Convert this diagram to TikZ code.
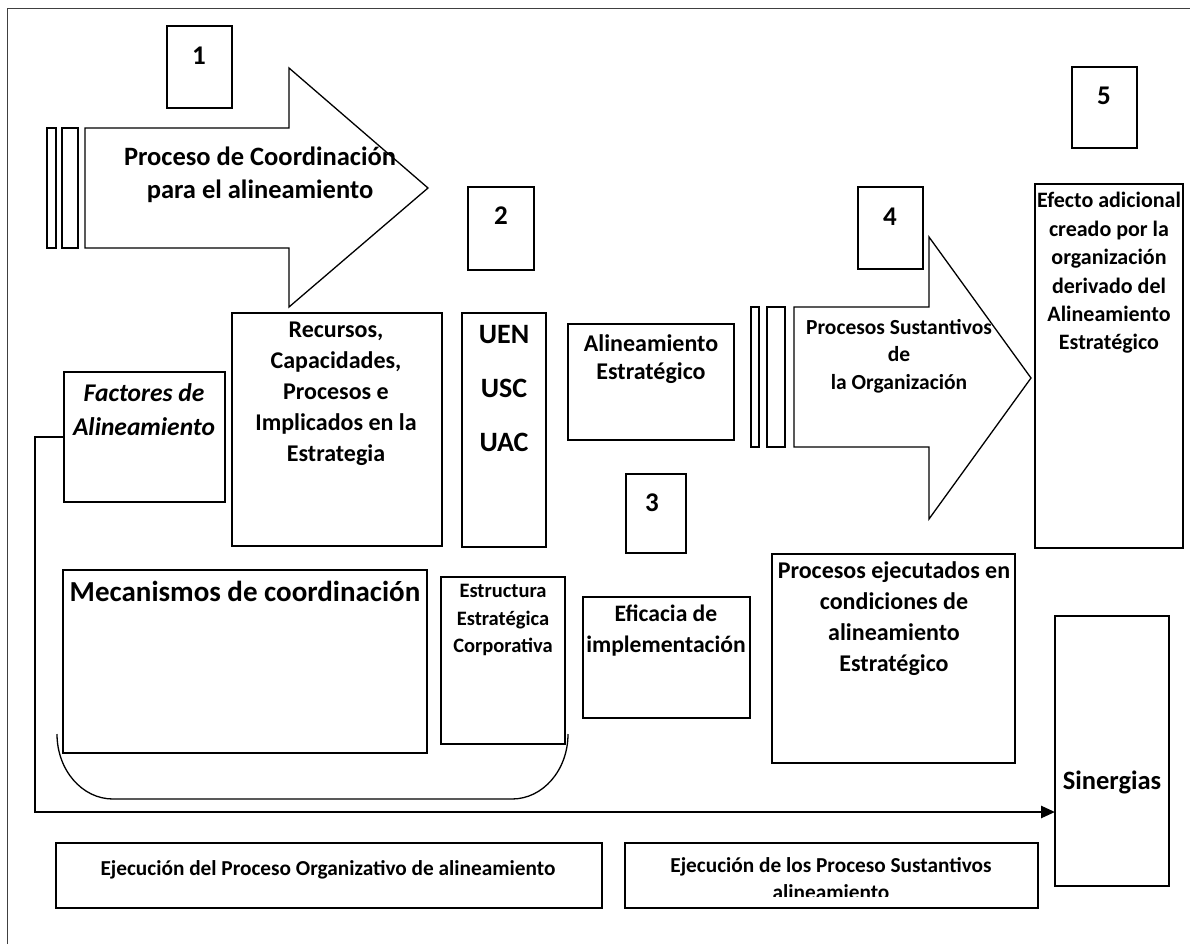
\documentclass[tikz,border=0pt]{standalone}
\usepackage{fontspec}
\setmainfont{Carlito}
\usetikzlibrary{arrows.meta}
\newcommand\myfs[2]{\fontsize{#1}{#2}\selectfont\bfseries}
\begin{document}
\begin{tikzpicture}[x=1pt,y=-1pt,
  box/.style={draw=black, line width=1.6pt, anchor=north west, inner sep=0pt, outer sep=0pt},
  blockarrow/.style={draw=black, line width=1.3pt, line join=miter},
  lbl/.style={align=center, inner sep=0pt},
  numlbl/.style={inner sep=0pt, font=\myfs{27}{30}},
]
\useasboundingbox (0,0) rectangle (1190,944);
% outer frame (only top and left edges visible)
\draw[line width=1.5pt, black!75] (7.5,944) -- (7.5,8.5) -- (1190,8.5);

% ---- number boxes
\node[box, minimum width=65pt, minimum height=82pt] (b1) at (167,26) {};
\node[box, minimum width=66pt, minimum height=83pt] (b2) at (468,187) {};
\node[box, minimum width=60pt, minimum height=79pt] (b3) at (626,474) {};
\node[box, minimum width=65pt, minimum height=82pt] (b4) at (858,187) {};
\node[box, minimum width=65pt, minimum height=81pt] (b5) at (1072,67) {};
\node[numlbl] (n1) at (199,56) {1};
\node[numlbl] (n2) at (501,216) {2};
\node[numlbl] (n3) at (652,503) {3};
\node[numlbl] (n4) at (890,217) {4};
\node[numlbl] (n5) at (1104,96) {5};

% ---- block arrow 1
\draw[blockarrow] (47,128) rectangle (56,248);
\draw[blockarrow] (62,128) rectangle (78,248);
\draw[blockarrow] (85,128) -- (289,128) -- (289,68) -- (428,188) -- (289,307) -- (289,248) -- (85,248) -- cycle;
\node[lbl, font=\myfs{26.5}{33}] (ta1) at (260,175) {Proceso de Coordinación\\para el alineamiento};

% ---- block arrow 2
\draw[blockarrow] (751,307) rectangle (759,447);
\draw[blockarrow] (767,307) rectangle (785,447);
\draw[blockarrow] (794,307) -- (929,307) -- (929,237) -- (1031,378) -- (929,519) -- (929,447) -- (794,447) -- cycle;
\node[lbl, font=\myfs{21.5}{27.5}] (ta2) at (899,356) {Procesos Sustantivos\\de\\la Organización};

% ---- content boxes
\node[box, minimum width=210pt, minimum height=233pt] (recursos) at (232,313) {};
\node[lbl, font=\myfs{24}{31}] (trec) at (336,394) {Recursos,\\Capacidades,\\Procesos e\\Implicados en la\\Estrategia};

\node[box, minimum width=161pt, minimum height=130pt] (factores) at (64,372) {};
\node[lbl, font=\myfs{25.5}{34}\itshape] (tfac) at (144,410) {Factores de\\Alineamiento};

\node[box, minimum width=84pt, minimum height=234pt] (uen) at (462,313) {};
\node[lbl, font=\myfs{28}{54}] (tuen) at (504,389) {UEN\\USC\\UAC};

\node[box, minimum width=166pt, minimum height=116pt] (alin) at (568,324) {};
\node[lbl, font=\myfs{24}{28}] (talin) at (651,359) {Alineamiento\\Estratégico};

\node[box, minimum width=148pt, minimum height=364pt] (efecto) at (1035,184) {};
\node[lbl, font=\myfs{22}{28.4}] (tefe) at (1109,273) {Efecto adicional\\creado por la\\organización\\derivado del\\Alineamiento\\Estratégico};

\node[box, minimum width=364pt, minimum height=183pt] (mecan) at (63,570) {};
\node[lbl, font=\myfs{29}{34}] (tmec) at (245,591) {Mecanismos de coordinación};

\node[box, minimum width=124pt, minimum height=167pt] (estr) at (441,577) {};
\node[lbl, font=\myfs{20.5}{27.5}] (test) at (503,620) {Estructura\\Estratégica\\Corporativa};

\node[box, minimum width=167pt, minimum height=121pt] (efic) at (583,597) {};
\node[lbl, font=\myfs{23.6}{31}] (tefi) at (666,631) {Eficacia de\\implementación};

\node[box, minimum width=243pt, minimum height=209pt] (procej) at (772,554) {};
\node[lbl, font=\myfs{24}{31}] (tpro) at (894,619) {Procesos ejecutados en\\condiciones de\\alineamiento\\Estratégico};

\node[box, minimum width=114pt, minimum height=270pt] (sinerg) at (1055,616) {};
\node[lbl, font=\myfs{26.5}{30}] (tsin) at (1112,782) {Sinergias};

\node[box, minimum width=546pt, minimum height=65pt] (bot1) at (56,843) {};
\node[lbl, font=\myfs{21.3}{27}] (tbot1) at (328,870) {Ejecución del Proceso Organizativo de alineamiento};

\node[box, minimum width=413pt, minimum height=65pt] (bot2) at (625,843) {};
\begin{scope}
\clip (625,843) rectangle (1038,896.5);
\node[lbl, font=\myfs{21.3}{27}, anchor=north] (tbot2) at (831,857) {Ejecución de los Proceso Sustantivos\\alineamiento};
\end{scope}

% ---- bracket under Mecanismos / Estructura
\draw[line width=1.3pt] (57,734) .. controls (57,770) and (82,799) .. (113,799) -- (512,799) .. controls (543,799) and (568,770) .. (568,734);

% ---- connector to Sinergias
\coordinate (corner) at (35,812);
\draw[line width=2.6pt, -{Triangle[length=14pt,width=12pt]}] (factores.west) -| (corner) -- (corner -| sinerg.west);
\end{tikzpicture}
\end{document}
